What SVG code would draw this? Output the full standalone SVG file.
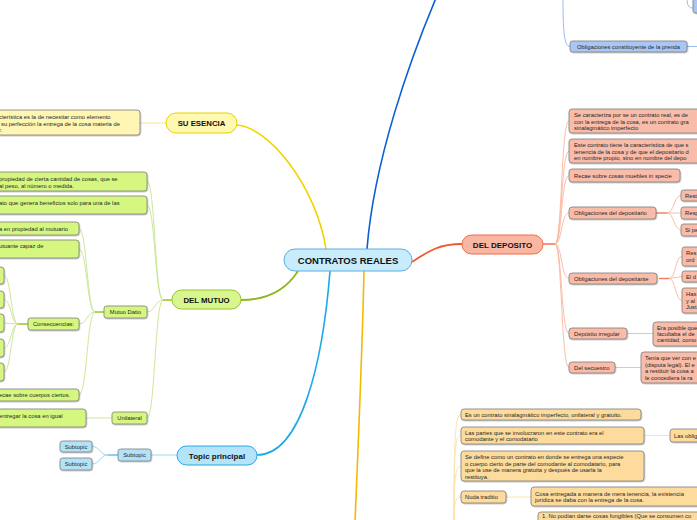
<svg xmlns="http://www.w3.org/2000/svg" width="697" height="520" viewBox="0 0 697 520">
<defs>
<filter id="sh" x="-10%" y="-20%" width="120%" height="150%"><feDropShadow dx="0.6" dy="0.8" stdDeviation="0.5" flood-color="#000" flood-opacity="0.3"/></filter>
</defs>
<style>
.t{font-family:"Liberation Sans",Arial,sans-serif;font-size:5.8px;fill:#262626}
.h{font-family:"Liberation Sans",Arial,sans-serif;font-weight:bold;fill:#111;text-anchor:middle}
.bx{stroke:#7d7d7d;stroke-width:0.8;filter:url(#sh)}
.c{fill:none}
.y{fill:#fff6b3}.g{fill:#d5f780}.b{fill:#b3e2f7}.r{fill:#f9bca9}.o{fill:#fddb9c}.lb{fill:#aac6f4}
</style>
<rect width="697" height="520" fill="#fff"/>
<g id="connectors">
<path class="c" d="M237 125 C268 127 316 185 326 249" stroke="#f0d400" stroke-width="1.6"/>
<path class="c" d="M298 271 C286 290 266 300 241 300" stroke="#8cb81e" stroke-width="1.8"/>
<path class="c" d="M330 271 C323 360 302 455 257 455" stroke="#1ea8ea" stroke-width="1.6"/>
<path class="c" d="M367 249 C374 160 410 60 436 -2" stroke="#0a5fd6" stroke-width="1.6"/>
<path class="c" d="M364 271 C362 360 358 450 355 522" stroke="#f5b800" stroke-width="1.6"/>
<path class="c" d="M412 262 C430 250 440 244 462 244" stroke="#f05a28" stroke-width="1.8"/>
<path class="c" d="M140 123 L166 123" stroke="#f3e68a" stroke-width="1"/>
<g stroke="#c6e48e" stroke-width="0.9" fill="none">
<path d="M172 300 L163 300" stroke="#9ccc2c" stroke-width="1.6"/>
<path d="M163 300 C155 300 155 181 147 181"/>
<path d="M163 300 C155 300 155 205 147 205"/>
<path d="M163 300 C155 300 155 312 147 312"/>
<path d="M163 300 C155 300 155 418 147 418"/>
<path d="M104 312 L95 312" stroke="#9ccc2c" stroke-width="1.6"/>
<path d="M95 312 C87 312 87 228.5 79 228.5"/>
<path d="M95 312 C87 312 87 249 79 249"/>
<path d="M95 312 C87 312 87 324 79 324"/>
<path d="M95 312 C87 312 87 395 79 395"/>
<path d="M28 324 L18 324" stroke="#9ccc2c" stroke-width="1.6"/>
<path d="M18 324 C11 324 11 275.5 4 275.5"/>
<path d="M18 324 C11 324 11 299.5 4 299.5"/>
<path d="M18 324 L4 323"/>
<path d="M18 324 C11 324 11 348 4 348"/>
<path d="M18 324 C11 324 11 372 4 372"/>
<path d="M86 418 L112 418"/>
</g>
<g stroke="#8fd0f0" stroke-width="0.9" fill="none">
<path d="M151 455 L177 455"/>
<path d="M118 455 L108 455" stroke="#5bbbe8" stroke-width="1.4"/>
<path d="M108 455 C100 455 100 446.5 92 446.5"/>
<path d="M108 455 C100 455 100 464 92 464"/>
</g>
<g stroke="#f9b59e" stroke-width="0.9" fill="none">
<path d="M543 244 L555 244" stroke="#f27b55" stroke-width="1.6"/>
<path d="M555 244 C562 244 561 121 569 121"/>
<path d="M555 244 C562 244 561 151 569 151"/>
<path d="M555 244 C562 244 561 175.5 569 175.5"/>
<path d="M555 244 C562 244 561 213 569 213"/>
<path d="M555 244 C562 244 561 278.5 569 278.5"/>
<path d="M555 244 C562 244 561 333.5 569 333.5"/>
<path d="M555 244 C562 244 561 367.5 569 367.5"/>
<path d="M656 213 L667 213" stroke="#f27b55" stroke-width="1.4"/>
<path d="M667 213 C674 213 674 195.5 681 195.5"/>
<path d="M667 213 L681 213"/>
<path d="M667 213 C674 213 674 230 681 230"/>
<path d="M659 278.5 L669 278.5" stroke="#f27b55" stroke-width="1.4"/>
<path d="M669 278.5 C676 278.5 675 256.5 682 256.5"/>
<path d="M669 278.5 L682 276.5"/>
<path d="M669 278.5 C676 278.5 675 300.5 682 300.5"/>
<path d="M627 333.5 L653 333.5"/>
<path d="M615 367.5 L641 367.5"/>
</g>
<g stroke="#fde0a4" stroke-width="0.9" fill="none">
<path d="M454 522 C454 440 455 414.5 461 414.5"/>
<path d="M454 522 C454 450 455 435.5 461 435.5"/>
<path d="M454 522 C454 480 455 466 461 466"/>
<path d="M454 522 C454 505 455 497 461 497"/>
<path d="M644 435.5 L670 435.5"/>
<path d="M506 497 L531 497"/>
</g>
<g stroke="#8fb2ee" stroke-width="0.9" fill="none">
<path d="M563 -2 C563 30 564 46.5 570 46.5"/>
<path d="M687 46.5 L699 46.5"/>
<path d="M687 -2 C687 6 689 8 693 8"/>
</g>
</g>
<g id="central"><rect x="284" y="249" width="128" height="22" rx="11" fill="#c8ecfb" stroke="#5aaee0" stroke-width="1"/><text class="h" x="348" y="263.5" font-size="9.5">CONTRATOS REALES</text></g>
<g id="su-esencia"><rect x="166" y="113" width="71" height="20" rx="10" fill="#fff8b0" stroke="#e8d200" stroke-width="1"/><text class="h" x="201.5" y="126" font-size="7.8">SU ESENCIA</text></g>
<g id="esencia-desc"><rect class="bx y" x="-10" y="110" width="150" height="25" rx="3"/><text class="t" x="-1" y="119">cterística es la de necesitar como elemento</text><text class="t" x="1" y="125.8">su perfección la entrega de la cosa materia de</text><text class="t" x="-1" y="132">r.</text></g>
<g id="del-mutuo"><rect x="172" y="290" width="69" height="19" rx="9.5" fill="#d7f68e" stroke="#96c62a" stroke-width="1"/><text class="h" x="206.5" y="302.5" font-size="7.8">DEL MUTUO</text></g>
<g id="mutuo-1"><rect class="bx g" x="-10" y="172" width="157" height="19" rx="3"/><text class="t" x="-1" y="181">propiedad de cierta cantidad de cosas, que se</text><text class="t" x="-1" y="187.5">al peso, al número o medida.</text></g>
<g id="mutuo-2"><rect class="bx g" x="-10" y="196" width="157" height="18" rx="3"/><text class="t" x="-1" y="205">ato que genera beneficios solo para una de las</text></g>
<g id="mutuo-datio"><rect class="bx g" x="104" y="306" width="43" height="12" rx="2.5"/><text class="t" x="125.5" y="314.2" text-anchor="middle">Mutuo Datio</text></g>
<g id="datio-1"><rect class="bx g" x="-10" y="222" width="89" height="13" rx="3"/><text class="t" x="-1" y="230.5">a en propiedad al mutuario</text></g>
<g id="datio-2"><rect class="bx g" x="-10" y="240" width="89" height="18" rx="3"/><text class="t" x="-1" y="248">utuante capaz de</text></g>
<g id="consecuencias"><rect class="bx g" x="28" y="318" width="51" height="12" rx="2.5"/><text class="t" x="53.5" y="326.2" text-anchor="middle">Consecuencias:</text></g>
<g id="cons-1"><rect class="bx g" x="-10" y="267" width="14" height="17" rx="3"/></g>
<g id="cons-2"><rect class="bx g" x="-10" y="291" width="14" height="17" rx="3"/></g>
<g id="cons-3"><rect class="bx g" x="-10" y="314" width="14" height="18" rx="3"/></g>
<g id="cons-4"><rect class="bx g" x="-10" y="339" width="14" height="18" rx="3"/></g>
<g id="cons-5"><rect class="bx g" x="-10" y="363" width="14" height="18" rx="3"/></g>
<g id="datio-3"><rect class="bx g" x="-10" y="389" width="89" height="12" rx="3"/><text class="t" x="-1" y="397.2">ecae sobre cuerpos ciertos.</text></g>
<g id="unilateral"><rect class="bx g" x="112" y="412" width="35" height="12" rx="2.5"/><text class="t" x="129.5" y="420.2" text-anchor="middle">Unilateral</text></g>
<g id="unilateral-desc"><rect class="bx g" x="-10" y="409" width="96" height="18" rx="3"/><text class="t" x="-1" y="418">entregar la cosa en igual</text></g>
<g id="topic-principal"><rect x="177" y="446" width="80" height="19" rx="9.5" fill="#b3e4fa" stroke="#29a8e0" stroke-width="1"/><text class="h" x="217" y="458.5" font-size="8">Topic principal</text></g>
<g id="subtopic"><rect class="bx b" x="118" y="449" width="33" height="12" rx="2.5"/><text class="t" x="134.5" y="457.2" text-anchor="middle">Subtopic</text></g>
<g id="subtopic-1"><rect class="bx b" x="60" y="441" width="32" height="11" rx="2.5"/><text class="t" x="76" y="448.7" text-anchor="middle">Subtopic</text></g>
<g id="subtopic-2"><rect class="bx b" x="60" y="458" width="32" height="12" rx="2.5"/><text class="t" x="76" y="466.2" text-anchor="middle">Subtopic</text></g>
<g id="oblig-prenda"><rect class="bx lb" x="570" y="41" width="117" height="11" rx="2.5"/><text class="t" x="628.5" y="48.7" text-anchor="middle">Obligaciones constituyente de la prenda</text></g>
<g id="prenda-top"><rect class="bx lb" x="693" y="-4" width="20" height="17" rx="2.5"/></g>
<g id="del-deposito"><rect x="462" y="235" width="81" height="19" rx="9.5" fill="#f9b6a3" stroke="#f06b48" stroke-width="1"/><text class="h" x="502.5" y="247.5" font-size="8">DEL DEPOSITO</text></g>
<g id="dep-a"><rect class="bx r" x="569" y="109" width="140" height="24" rx="3"/><text class="t" x="574" y="117">Se caracteriza por se un contrato real, es de</text><text class="t" x="574" y="123.5">con la entrega de la cosa, es un contrato gra</text><text class="t" x="574" y="130">sinalagmático imperfecto</text></g>
<g id="dep-b"><rect class="bx r" x="569" y="139" width="140" height="24" rx="3"/><text class="t" x="574" y="147">Este contrato tiene la característica de que s</text><text class="t" x="574" y="153.5">tenencia de la cosa y de que el depositario d</text><text class="t" x="574" y="160">en nombre propio, sino en nombre del depo</text></g>
<g id="dep-c"><rect class="bx r" x="569" y="169" width="111" height="13" rx="3"/><text class="t" x="574" y="177.8">Recae sobre cosas muebles in specie</text></g>
<g id="dep-oblig-depositario"><rect class="bx r" x="569" y="207" width="87" height="12" rx="3"/><text class="t" x="574" y="215.2">Obligaciones del depositario</text></g>
<g id="depositario-1"><rect class="bx r" x="681" y="190" width="30" height="11" rx="2.5"/><text class="t" x="685" y="197.7">Rest</text></g>
<g id="depositario-2"><rect class="bx r" x="681" y="207" width="30" height="12" rx="2.5"/><text class="t" x="685" y="215.2">Resp</text></g>
<g id="depositario-3"><rect class="bx r" x="681" y="224" width="30" height="12" rx="2.5"/><text class="t" x="685" y="232.2">Si pe</text></g>
<g id="dep-oblig-depositante"><rect class="bx r" x="569" y="273" width="88" height="11" rx="3"/><text class="t" x="574" y="280.7">Obligaciones del depositante</text></g>
<g id="depositante-1"><rect class="bx r" x="682" y="247" width="30" height="19" rx="2.5"/><text class="t" x="686" y="255">Res</text><text class="t" x="686" y="262">ord</text></g>
<g id="depositante-2"><rect class="bx r" x="682" y="271" width="30" height="11" rx="2.5"/><text class="t" x="686" y="278.7">El d</text></g>
<g id="depositante-3"><rect class="bx r" x="682" y="288" width="30" height="25" rx="2.5"/><text class="t" x="686" y="296">Has</text><text class="t" x="686" y="302.7">y al</text><text class="t" x="686" y="309.4">Just</text></g>
<g id="dep-irregular"><rect class="bx r" x="569" y="328" width="58" height="11" rx="3"/><text class="t" x="574" y="335.7">Depósito irregular</text></g>
<g id="irregular-desc"><rect class="bx r" x="653" y="322" width="60" height="24" rx="3"/><text class="t" x="657" y="329.5">Era posible que</text><text class="t" x="657" y="335.7">facultaba el de</text><text class="t" x="657" y="342">cantidad, como</text></g>
<g id="dep-secuestro"><rect class="bx r" x="569" y="362" width="46" height="11" rx="3"/><text class="t" x="574" y="369.7">Del secuestro</text></g>
<g id="secuestro-desc"><rect class="bx r" x="641" y="352" width="70" height="31" rx="3"/><text class="t" x="645" y="360">Tenía que ver con e</text><text class="t" x="645" y="366.5">(disputa legal). El e</text><text class="t" x="645" y="373">a restituir la cosa a</text><text class="t" x="645" y="379.5">le concediera la ra</text></g>
<g id="com-1"><rect class="bx o" x="461" y="409" width="180" height="11" rx="3"/><text class="t" x="465" y="416.7">Es un contrato sinalagmático imperfecto, unilateral y gratuito.</text></g>
<g id="com-2"><rect class="bx o" x="461" y="427" width="183" height="17" rx="3"/><text class="t" x="465" y="435">Las partes que se involucraron en este contrato era el</text><text class="t" x="465" y="441.2">comodante y el comodatario</text></g>
<g id="com-2-oblig"><rect class="bx o" x="670" y="429" width="40" height="13" rx="3"/><text class="t" x="674" y="437.7">Las oblig</text></g>
<g id="com-3"><rect class="bx o" x="461" y="451" width="183" height="30" rx="3"/><text class="t" x="465" y="459">Se define como un contrato en donde se entrega una especie</text><text class="t" x="465" y="465.5">o cuerpo cierto de parte del comodante al comodatario, para</text><text class="t" x="465" y="472">que la use de manera gratuita y después de usarla la</text><text class="t" x="465" y="478.5">restituya.</text></g>
<g id="nuda-traditio"><rect class="bx o" x="461" y="491" width="45" height="12" rx="3"/><text class="t" x="465" y="499.2">Nuda traditio</text></g>
<g id="nuda-desc"><rect class="bx o" x="531" y="487" width="180" height="19" rx="3"/><text class="t" x="535" y="495.5">Cosa entregada a manera de mera tenencia, la existencia</text><text class="t" x="535" y="502">jurídica se daba con la entrega de la cosa.</text></g>
<g id="com-5"><rect class="bx o" x="538" y="512" width="175" height="20" rx="3"/><text class="t" x="542" y="518.3">1.  No podían darse cosas fungibles (Que se consumen co</text></g>
</svg>
